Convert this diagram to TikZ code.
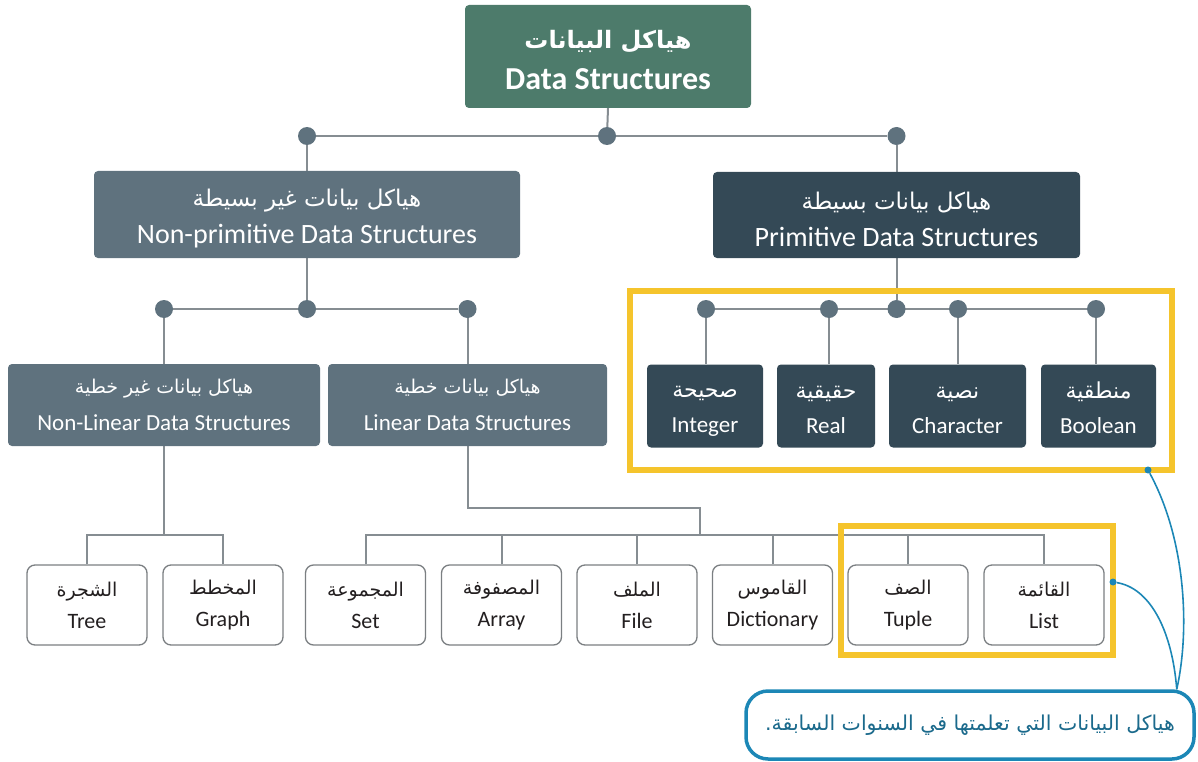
\documentclass[tikz,border=0pt]{standalone}
\usepackage{fontspec}
\setmainfont{Carlito}
\newfontfamily\arabicfont[Script=Arabic]{DejaVu Sans}
\TeXXeTstate=1
\usetikzlibrary{positioning,backgrounds}
\definecolor{dsgreen}{HTML}{4D7B6B}
\definecolor{dsslate}{HTML}{5F727E}
\definecolor{dsdark}{HTML}{344956}
\definecolor{linkgray}{HTML}{868D92}
\definecolor{leafgray}{HTML}{7B7F82}
\definecolor{leaftext}{HTML}{231F20}
\definecolor{hlyellow}{HTML}{F5C42C}
\definecolor{noteblue}{HTML}{1C87B6}
\definecolor{notetext}{HTML}{1B6A8C}
\newcommand{\arsize}{22}
\newcommand{\arlift}{0pt}
\newcommand{\artext}[1]{\rule{0pt}{\arlift}{\fontsize{\arsize}{30}\selectfont\arabicfont\beginR#1\endR}}
\tikzset{
    dsbox/.style={rectangle, rounded corners=4pt, inner sep=0pt, align=center, text=white},
    topbox/.style={dsbox, fill=dsgreen, minimum width=286pt, minimum height=103pt,
        font=\bfseries\fontsize{32}{41}\selectfont\renewcommand{\arsize}{24}\renewcommand{\arlift}{26pt}},
    midbox/.style={dsbox, fill=dsslate,
        font=\fontsize{28}{37}\selectfont\renewcommand{\arsize}{23}\renewcommand{\arlift}{26pt}},
    primbox/.style={dsbox, fill=dsdark,
        font=\fontsize{28}{37}\selectfont\renewcommand{\arsize}{23}\renewcommand{\arlift}{26pt}},
    subbox/.style={dsbox, fill=dsslate, minimum height=82pt,
        font=\fontsize{23}{37}\selectfont\renewcommand{\arsize}{19}},
    kindbox/.style={dsbox, fill=dsdark, minimum height=83pt,
        font=\fontsize{23}{35}\selectfont\renewcommand{\arsize}{22}\renewcommand{\arlift}{21pt}},
    leaf/.style={rectangle, draw=leafgray, line width=1.3pt, fill=white, rounded corners=8pt,
        minimum width=120pt, minimum height=80pt, inner sep=0pt, align=center,
        text=leaftext, font=\fontsize{22}{32}\selectfont\renewcommand{\arsize}{19}},
    dot/.style={circle, fill=dsslate, minimum size=18pt, inner sep=0pt},
    link/.style={draw=linkgray, line width=2pt},
    hlframe/.style={rectangle, draw=hlyellow, line width=6pt, inner sep=0pt},
    tipdot/.style={circle, fill=noteblue, minimum size=7pt, inner sep=0pt},
    pointer/.style={draw=noteblue, line width=1.6pt},
    callout/.style={rectangle, draw=noteblue, line width=3.5pt, rounded corners=22pt, fill=white,
        minimum width=448pt, minimum height=68pt, text=notetext,
        font=\fontsize{20.5}{26}\selectfont\renewcommand{\arsize}{20.5}}
}
\begin{document}
\begin{tikzpicture}[x=1pt,y=-1pt]
\useasboundingbox (0,0) rectangle (1198,762);

% main boxes
\node[topbox] (ds) at (608,56.5) {\artext{هياكل البيانات}\\Data Structures};
\node[midbox, minimum width=426pt, minimum height=87pt] (nonprim) at (307,214.5)
    {\artext{هياكل بيانات غير بسيطة}\\Non-primitive Data Structures};
\node[primbox, minimum width=367pt, minimum height=86pt] (prim) at (896.5,215)
    {\artext{هياكل بيانات بسيطة}\\Primitive Data Structures};
\node[subbox, minimum width=312pt] (nonlin) at (164,405)
    {\artext{هياكل بيانات غير خطية}\\Non-Linear Data Structures};
\node[subbox, minimum width=279pt] (lin) at (467.5,405)
    {\artext{هياكل بيانات خطية}\\Linear Data Structures};

% primitive kinds
\node[kindbox, minimum width=116pt] (integer) at (705,406) {\artext{صحيحة}\\Integer};
\node[kindbox, minimum width=98pt] (real) at (826,406) {\artext{حقيقية}\\Real};
\node[kindbox, minimum width=137pt] (character) at (957.5,406) {\artext{نصية}\\Character};
\node[kindbox, minimum width=115pt] (boolean) at (1098.5,406) {\artext{منطقية}\\Boolean};

% leaves
\node[leaf] (tree) at (87,605) {\artext{الشجرة}\\Tree};
\node[leaf] (graph) at (223,605) {\artext{المخطط}\\Graph};
\node[leaf] (set) at (365.5,605) {\artext{المجموعة}\\Set};
\node[leaf] (array) at (501.5,605) {\artext{المصفوفة}\\Array};
\node[leaf] (file) at (637,605) {\artext{الملف}\\File};
\node[leaf] (dict) at (772.5,605) {\artext{القاموس}\\Dictionary};
\node[leaf] (tuple) at (908,605) {\artext{الصف}\\Tuple};
\node[leaf] (list) at (1044,605) {\artext{القائمة}\\List};

% junction dots
\node[dot] (d0) at (607,136) {};
\node[dot] (dl) at (nonprim.north |- d0) {};
\node[dot] (dr) at (prim.north |- d0) {};
\node[dot] (n0) at (nonprim.south |- 0,309) {};
\node[dot] (nl) at (nonlin.north |- n0) {};
\node[dot] (nr) at (lin.north |- n0) {};
\node[dot] (p0) at (prim.south |- 0,309) {};
\node[dot] (p1) at (706,309) {};
\node[dot] (p2) at (829,309) {};
\node[dot] (p3) at (958,309) {};
\node[dot] (p4) at (1096,309) {};
\coordinate (nlj) at (nonlin.south |- 0,535);
\coordinate (lj) at (700,535);

\begin{scope}[on background layer]
    \draw[link] (ds.south) -- (d0);
    \draw[link] (dl) -- (dr);
    \draw[link] (dl) -- (nonprim.north);
    \draw[link] (dr) -- (prim.north);
    \draw[link] (nonprim.south) -- (n0);
    \draw[link] (nl) -- (nr);
    \draw[link] (nl) -- (nonlin.north);
    \draw[link] (nr) -- (lin.north);
    \draw[link] (prim.south) -- (p0);
    \draw[link] (p1) -- (p4);
    \draw[link] (p1) -- (p1 |- integer.north);
    \draw[link] (p2) -- (p2 |- real.north);
    \draw[link] (p3) -- (p3 |- character.north);
    \draw[link] (p4) -- (p4 |- boolean.north);
    % non-linear leaves
    \draw[link] (nonlin.south) -- (nlj);
    \draw[link] (tree.north) |- (nlj) -| (graph.north);
    % linear leaves
    \draw[link] (lin.south) -- (lin.south |- 0,508) -| (lj);
    \draw[link] (set.north) |- (list.north |- lj) -- (list.north);
    \foreach \n in {array,file,dict,tuple}
        \draw[link] (\n.north) -- (\n.north |- lj);
\end{scope}

% highlight frames
\node[hlframe, minimum width=542pt, minimum height=179pt] (primframe) at (901,380.5) {};
\node[hlframe, minimum width=272pt, minimum height=129pt] (seqframe) at (977,590.5) {};

% note
\node[callout] (note) at (970,725) {\artext{هياكل البيانات التي تعلمتها في السنوات السابقة.}};
\coordinate (meet) at ([xshift=-19pt]note.north east);
\node[tipdot] (tip1) at (1148,470) {};
\node[tipdot] (tip2) at (1113,582) {};
\draw[pointer] (tip1) .. controls (1186,540) and (1190,630) .. (meet);
\draw[pointer] (tip2) .. controls (1150,588) and (1172,630) .. (meet);
\end{tikzpicture}
\end{document}
